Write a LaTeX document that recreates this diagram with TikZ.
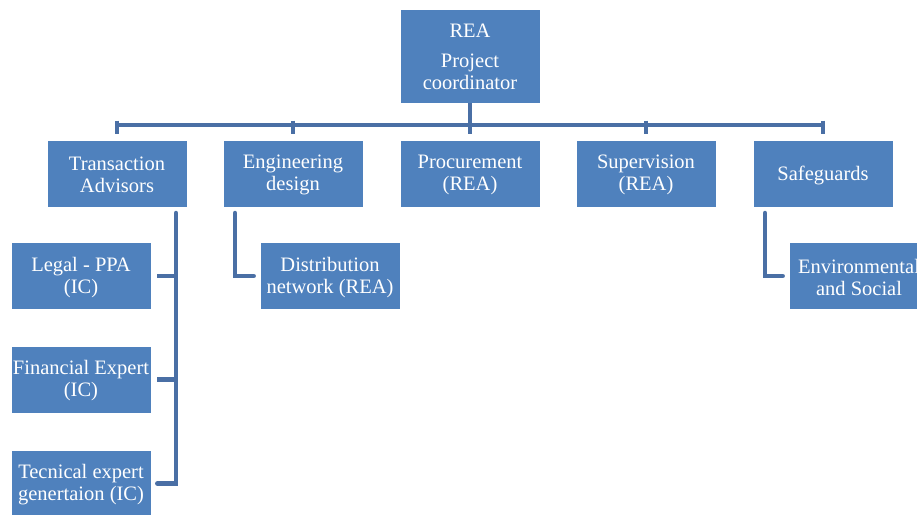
\documentclass[tikz,border=0pt]{standalone}
\usepackage{fontspec}
\setmainfont{Liberation Serif}
\begin{document}
\begin{tikzpicture}[x=1pt,y=-1pt,
  box/.style={fill=boxblue, draw=white, line width=0.6pt, minimum width=140pt, minimum height=67pt,
    text=white, align=center, font=\fontsize{20.5}{22}\selectfont, inner sep=0pt},
  txt/.style={text=white, align=center, font=\fontsize{20.5}{22}\selectfont, inner sep=0pt},
  conn/.style={draw=lineblue, line width=4.5pt}]
\definecolor{boxblue}{HTML}{4F81BD}
\definecolor{lineblue}{HTML}{4A6FA5}
\useasboundingbox (0,0) rectangle (917,514);
\fill[white] (0,0) rectangle (917,514);
% top
\node[box, minimum height=94pt] (rea) at (470,56) {};
\node[txt] at ([yshift=-1pt]rea.center) {REA\\[8pt]Project\\coordinator};
% level 2
\node[box] (ta) at (117,173.5) {};
\node[box] (ed) at (293,173.5) {};
\node[box] (pr) at (470,173.5) {};
\node[box] (su) at (646,173.5) {};
\node[box] (sg) at (823,173.5) {};
\node[txt] at ([yshift=-1.5pt]ta.center) {Transaction\\Advisors};
\node[txt] at ([yshift=-1.5pt]ed.center) {Engineering\\design};
\node[txt] at ([yshift=-1.5pt]pr.center) {Procurement\\(REA)};
\node[txt] at ([yshift=-1.5pt]su.center) {Supervision\\(REA)};
\node[txt] at ([yshift=-1.5pt]sg.center) {Safeguards};
% level 3
\node[box] (lg) at (81,276) {};
\node[box] (fe) at (81,379.5) {};
\node[box] (te) at (81,483.5) {};
\node[box] (dn) at (330,276) {};
\node[box] (es) at (859,276) {};
\node[txt] at ([yshift=-1.5pt]lg.center) {Legal - PPA\\(IC)};
\node[txt] at ([yshift=-1.5pt]fe.center) {Financial Expert\\(IC)};
\node[txt] at ([yshift=-1.5pt]te.center) {Tecnical expert\\genertaion (IC)};
\node[txt] at ([yshift=-1.5pt]dn.center) {Distribution\\network (REA)};
\node[txt] at ([yshift=-1.5pt]es.center) {Environmental\\and Social};
% bus
\coordinate (busL) at (117,125);
\coordinate (busR) at (823,125);
\draw[conn] (busL) -- (busR);
\draw[conn] (rea.south) -- ++(0,30);
\foreach \n in {ta,ed,pr,su,sg}{
  \draw[conn] (\n.north) ++(0,-19) -- ++(0,13);
}
% transaction advisors children
\coordinate (tv) at (176,213);
\draw[conn, line cap=round] (tv) -- (176,483.5) -- ([xshift=6pt]te.east);
\draw[conn] ([xshift=6pt]lg.east) -- (176,276);
\draw[conn] ([xshift=6pt]fe.east) -- (176,379.5);
% engineering child
\draw[conn, line cap=round] (235,213) -- (235,276) -- ([xshift=-6pt]dn.west);
% safeguards child
\draw[conn, line cap=round] (765,213) -- (765,276) -- ([xshift=-6pt]es.west);
\end{tikzpicture}
\end{document}
